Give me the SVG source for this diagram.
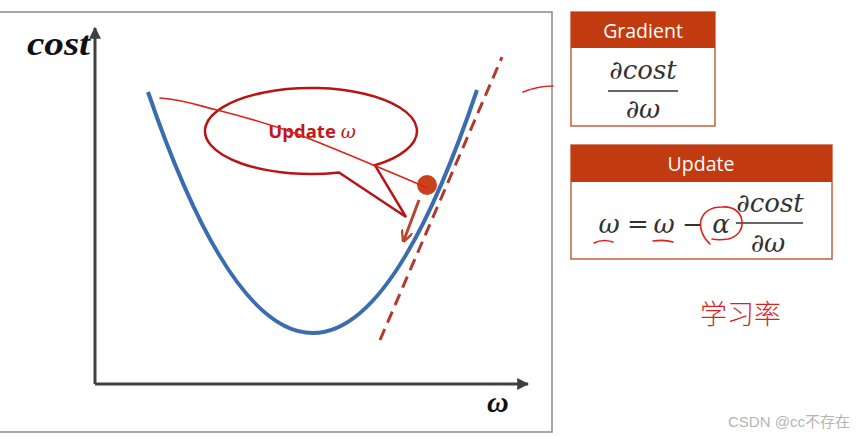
<svg xmlns="http://www.w3.org/2000/svg" width="861" height="436" viewBox="0 0 861 436">
<style>
.axis{stroke:#404040;stroke-width:3;fill:none}
.hdr{fill:#c23a10}
.box{fill:#fff;stroke:#c8603f;stroke-width:1.5}
.htxt{font-family:"Open Sans","Liberation Sans",sans-serif;font-size:19.5px;fill:#fff;text-anchor:middle}
.math{font-family:"DejaVu Serif","Liberation Serif",serif;font-style:italic;fill:#333;font-size:26px;text-anchor:middle}
.mathu{font-family:"DejaVu Serif","Liberation Serif",serif;fill:#333;font-size:26px;text-anchor:middle}
.ink{fill:none;stroke:#e0201a;stroke-width:1.6;stroke-linecap:round;stroke-linejoin:round}
</style>
<defs>
<marker id="axArrow" viewBox="0 0 10 10" refX="9" refY="5" markerWidth="4" markerHeight="4" orient="auto" markerUnits="strokeWidth">
<path d="M0,0 L10,5 L0,10 z" fill="#404040"/>
</marker>
<marker id="redArrow" viewBox="0 0 10 10" refX="8" refY="5" markerWidth="4" markerHeight="4" orient="auto" markerUnits="strokeWidth">
<path d="M0,0 L10,5 L0,10" fill="none" stroke="#b5462a" stroke-width="2"/>
</marker>
</defs>
<rect width="861" height="436" fill="#fff"/>

<g id="chart-panel">
<rect x="-1" y="12" width="553" height="420" fill="#fff" stroke="#8a8a8a" stroke-width="1.5"/>
</g>

<g id="axes">
<line class="axis" x1="95" y1="384" x2="95" y2="28" marker-end="url(#axArrow)"/>
<line class="axis" x1="95" y1="384" x2="528" y2="384" marker-end="url(#axArrow)"/>
<text x="27" y="55" font-family="Liberation Serif,serif" font-weight="bold" font-style="italic" font-size="34" fill="#111" textLength="63" lengthAdjust="spacingAndGlyphs">cost</text>
<text x="487" y="412" font-family="Liberation Serif,serif" font-weight="bold" font-style="italic" font-size="30" fill="#111">ω</text>
</g>

<g id="cost-curve">
<path d="M148,92 Q230.5,333 313,333 Q395,333 477,90" fill="none" stroke="#3a6db0" stroke-width="4"/>
</g>

<g id="tangent">
<line x1="380" y1="340" x2="502" y2="57" stroke="#b03a2e" stroke-width="3" stroke-dasharray="12,7"/>
</g>

<g id="bubble">
<path d="M375,165.3 A106,43 0 1 0 339,172.5 L406,217 Z" fill="#fff" stroke="#b81414" stroke-width="2.5" stroke-linejoin="miter"/>
<text x="312" y="138" text-anchor="middle" font-family="Open Sans,Liberation Sans,sans-serif" font-weight="bold" font-size="18.5" fill="#c01818">Update <tspan font-family="DejaVu Serif,serif" font-style="italic" font-weight="normal">ω</tspan></text>
</g>

<g id="point">
<circle cx="427" cy="185" r="10" fill="#c8401c"/>
<line x1="419" y1="200" x2="404" y2="240" stroke="#b5462a" stroke-width="3" marker-end="url(#redArrow)"/>
</g>

<g id="connectors">
<path class="ink" d="M160,98 C185,100 200,106 217,110 C245,117 275,126 300,135 C325,145 350,155 373,165 C395,174 412,181 427,188"/>
<path class="ink" stroke-width="2" d="M523,92 C533,88 543,86 553,86"/>
</g>

<g id="gradient-box">
<rect class="box" x="571" y="12" width="144" height="114"/>
<rect class="hdr" x="571" y="12" width="144" height="36"/>
<text class="htxt" x="643" y="38">Gradient</text>
<text class="math" x="643" y="79">∂cost</text>
<line x1="608" y1="91" x2="678" y2="91" stroke="#333" stroke-width="1.5"/>
<text class="math" x="643" y="118">∂ω</text>
</g>

<g id="update-box">
<rect class="box" x="571" y="145" width="261" height="114"/>
<rect class="hdr" x="571" y="145" width="261" height="37"/>
<text class="htxt" x="701" y="171">Update</text>
<text class="math" x="609" y="233">ω</text>
<text class="mathu" x="638" y="233">=</text>
<text class="math" x="664" y="233">ω</text>
<text class="mathu" x="693" y="233">−</text>
<text class="math" x="721" y="233">α</text>
<line x1="736" y1="223" x2="803" y2="223" stroke="#333" stroke-width="1.5"/>
<text class="math" x="770" y="212">∂cost</text>
<text class="math" x="768" y="252">∂ω</text>
</g>

<g id="annotations">
<path class="ink" d="M594,243 C600,240 607,240 613,242"/>
<path class="ink" d="M653,241 C660,240 667,240 673,242"/>
<path class="ink" d="M710,244 C703,238 699,228 701,220 C704,211 712,207 722,207 C733,206 741,212 742,221 C743,230 737,237 728,239 C722,240 716,240 712,239"/>
<text x="700" y="324" font-family="Noto Sans CJK SC,sans-serif" font-size="27" font-weight="300" fill="#e0201a">学习率</text>
</g>

<g id="watermark">
<text x="728" y="427" font-family="Liberation Sans,Noto Sans CJK SC,sans-serif" font-size="15" fill="#b5b5b5">CSDN @cc不存在</text>
</g>
</svg>
